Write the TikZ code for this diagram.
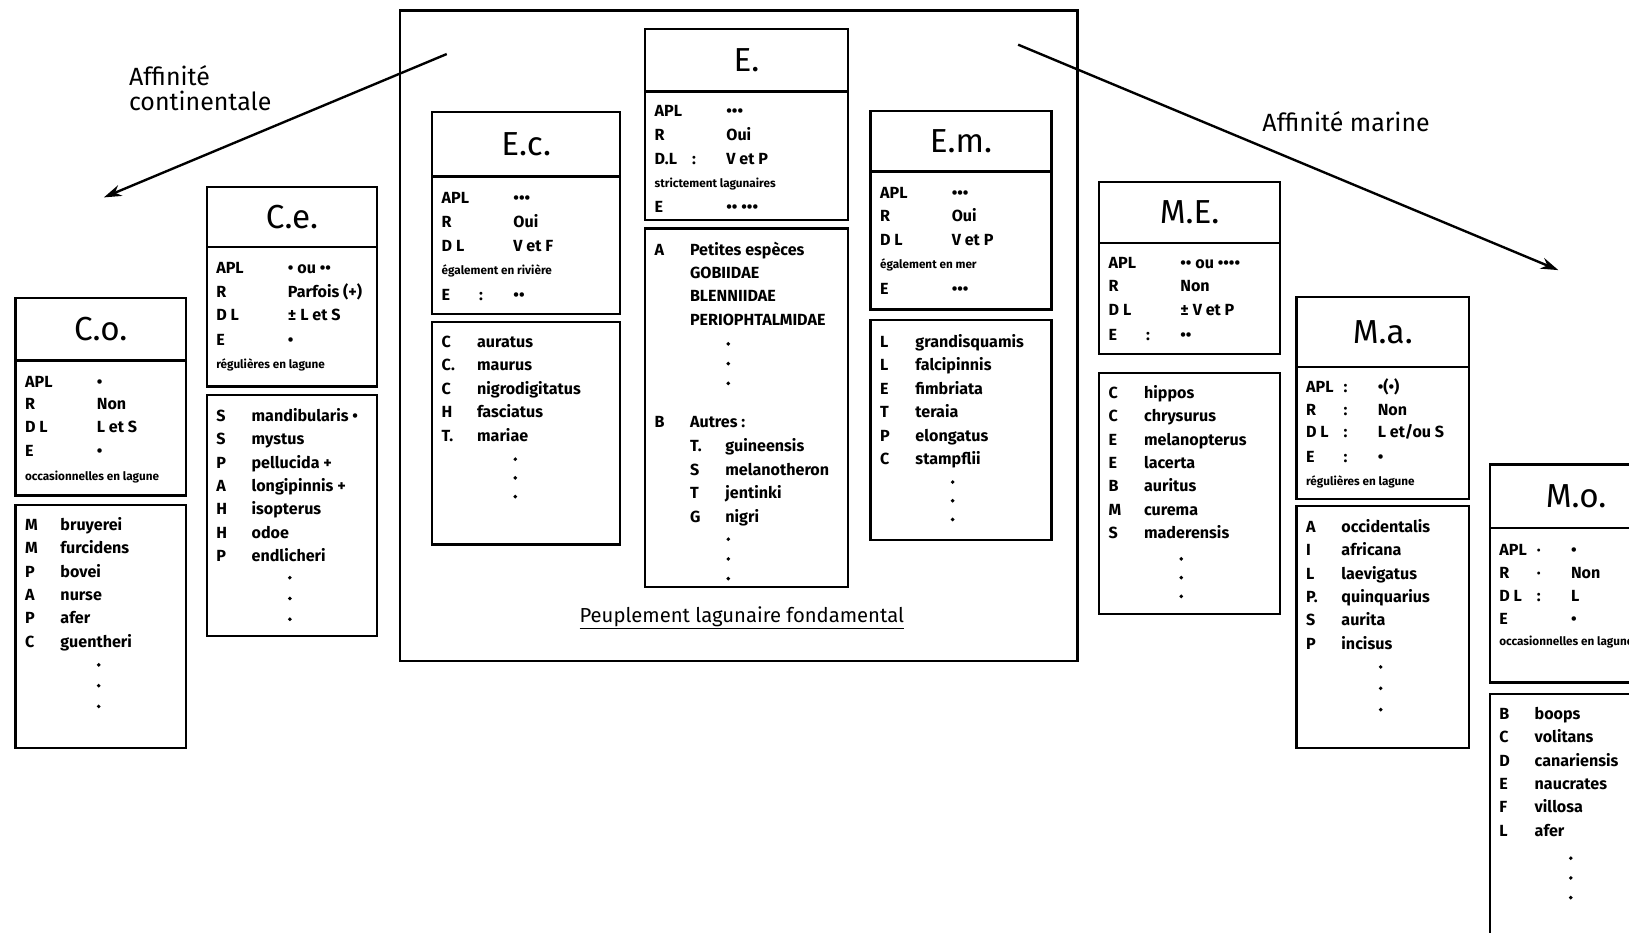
\documentclass[tikz,border=0pt]{standalone}
\usepackage{fontspec}
\setmainfont{Fira Sans}
\usetikzlibrary{arrows.meta}
\tikzset{
  boxr/.style={draw, line width=2.2pt, inner sep=0pt, minimum width=#1},
  ttl/.style={font=\fontsize{32}{35}\selectfont},
  txt/.style={anchor=base west, inner sep=0pt, font=\fontsize{15.5}{17}\selectfont\bfseries},
  sml/.style={anchor=base west, inner sep=0pt, font=\fontsize{11.3}{12}\selectfont\bfseries},
  lab/.style={anchor=west, inner sep=0pt, font=\fontsize{24}{26}\selectfont},
  arr/.style={line width=2.3pt, -{Stealth[length=17pt,width=11pt]}}
}
% box: name, L, R, Htop, Hbot, Pbot, Ltop, Lbot, title
\newcommand\fishbox[9]{%
  \node[boxr={#3-#2}, minimum height={#5-#4}, ttl] (#1h) at ({(#2+#3)/2},{(#4+#5)/2}) {#9};
  \node[boxr={#3-#2}, minimum height={#6-#5}] (#1p) at ({(#2+#3)/2},{(#5+#6)/2}) {};
  \node[boxr={#3-#2}, minimum height={#8-#7}] (#1l) at ({(#2+#3)/2},{(#7+#8)/2}) {};}
% parameter line: box, idx, L, y, label, colon, value
\newcommand\pl[7]{%
  \node[txt] (#1a#2) at ({#3+9},{#4+5.5}) {#5};
  \node[txt] (#1b#2) at ({#3+45},{#4+5.5}) {#6};
  \node[txt] (#1c#2) at ({#3+78},{#4+5.5}) {#7};}
% small line: box, idx, L, y, text
\newcommand\smallline[5]{%
  \node[sml] (#1s#2) at ({#3+9},{#4+3.5}) {#5};}
% list line: box, idx, L, y, letter, name
\newcommand\lline[6]{%
  \node[txt] (#1m#2) at ({#3+9},{#4+5.5}) {#5};
  \node[txt] (#1n#2) at ({#3+43},{#4+5.5}) {#6};}
% vertical dots: x, y, gap
\newcommand\vd[3]{%
  \fill ({#1},{#2}) circle (1.9) ({#1},{#2+#3}) circle (1.9) ({#1},{#2+2*#3}) circle (1.9);}
\begin{document}
\begin{tikzpicture}[x=1pt,y=-1pt]
\clip (0,0) rectangle (1568,898);
\fill[white] (0,0) rectangle (1568,898);

% outer frame
\node[draw, line width=2.2pt, minimum width=652pt, minimum height=626pt, inner sep=0pt] (outer) at (711,323) {};
\node[anchor=center, inner sep=0pt, font=\fontsize{19.5}{21}\selectfont] (peup) at (714,595) {\underline{Peuplement lagunaire fondamental}};

% arrows
\coordinate (ls) at (430,52);
\coordinate (le) at (100,190);
\coordinate (rs) at (980,43);
\coordinate (re) at (1500,260);
\draw[arr] (ls) -- (le);
\draw[arr] (rs) -- (re);
\node[lab] (aff1) at (124,73) {Affinité};
\node[lab] (aff2) at (124,97) {continentale};
\node[lab] (aff3) at (1215,117) {Affinité marine};

% ---------- C.o.
\fishbox{co}{15}{179}{287}{347}{477}{486}{720}{C.o.}
\pl{co}{1}{15}{367}{APL}{}{•}
\pl{co}{2}{15}{389}{R}{}{Non}
\pl{co}{3}{15}{411}{D L}{}{L et S}
\pl{co}{4}{15}{434}{E}{}{•}
\smallline{co}{5}{15}{459}{occasionnelles en lagune}
\lline{co}{1}{15}{505}{M}{bruyerei}
\lline{co}{2}{15}{527.5}{M}{furcidens}
\lline{co}{3}{15}{550}{P}{bovei}
\lline{co}{4}{15}{572.5}{A}{nurse}
\lline{co}{5}{15}{595}{P}{afer}
\lline{co}{6}{15}{617.5}{C}{guentheri}
\vd{95}{640}{20}

% ---------- C.e.
\fishbox{ce}{199}{363}{180}{238}{372}{380}{612}{C.e.}
\pl{ce}{1}{199}{258}{APL}{}{• ou ••}
\pl{ce}{2}{199}{281}{R}{}{Parfois (+)}
\pl{ce}{3}{199}{303}{D L}{}{± L et S}
\pl{ce}{4}{199}{327}{E}{}{•}
\smallline{ce}{5}{199}{351}{régulières en lagune}
\lline{ce}{1}{199}{400}{S}{mandibularis •}
\lline{ce}{2}{199}{422.5}{S}{mystus}
\lline{ce}{3}{199}{445}{P}{pellucida +}
\lline{ce}{4}{199}{467.5}{A}{longipinnis +}
\lline{ce}{5}{199}{490}{H}{isopterus}
\lline{ce}{6}{199}{512.5}{H}{odoe}
\lline{ce}{7}{199}{535}{P}{endlicheri}
\vd{279}{556}{20}

% ---------- E.c.
\fishbox{ec}{416}{597}{108}{170}{302}{310}{524}{E.c.}
\pl{ec}{1}{416}{190}{APL}{}{•••}
\pl{ec}{2}{416}{213}{R}{}{Oui}
\pl{ec}{3}{416}{237}{D L}{}{V et F}
\smallline{ec}{4}{416}{261}{également en rivière}
\pl{ec}{5}{416}{284}{E}{:}{••}
\lline{ec}{1}{416}{329}{C}{auratus}
\lline{ec}{2}{416}{351.5}{C.}{maurus}
\lline{ec}{3}{416}{374}{C}{nigrodigitatus}
\lline{ec}{4}{416}{396.5}{H}{fasciatus}
\lline{ec}{5}{416}{419}{T.}{mariae}
\vd{496}{442}{18}

% ---------- E.
\fishbox{ee}{621}{816}{28}{88}{212}{220}{565}{E.}
\pl{ee}{1}{621}{107}{APL}{}{•••}
\pl{ee}{2}{621}{130}{R}{}{Oui}
\pl{ee}{3}{621}{153}{D.L}{:}{V et P}
\smallline{ee}{4}{621}{177}{strictement lagunaires}
\pl{ee}{5}{621}{199}{E}{}{•• •••}
\lline{ee}{1}{621}{240}{A}{Petites espèces}
\lline{ee}{2}{621}{263}{}{GOBIIDAE}
\lline{ee}{3}{621}{285}{}{BLENNIIDAE}
\lline{ee}{4}{621}{308}{}{PERIOPHTALMIDAE}
\vd{701}{331}{19}
\lline{ee}{5}{621}{406}{B}{Autres :}
\lline{ee}{6}{655}{429}{T.}{guineensis}
\lline{ee}{7}{655}{452}{S}{melanotheron}
\lline{ee}{8}{655}{474}{T}{jentinki}
\lline{ee}{9}{655}{497}{G}{nigri}
\vd{701}{519}{19}

% ---------- E.m.
\fishbox{em}{838}{1012}{107}{165}{298}{308}{520}{E.m.}
\pl{em}{1}{838}{186}{APL}{}{•••}
\pl{em}{2}{838}{208}{R}{}{Oui}
\pl{em}{3}{838}{231}{D L}{}{V et P}
\smallline{em}{4}{838}{255}{également en mer}
\pl{em}{5}{838}{278}{E}{}{•••}
\lline{em}{1}{838}{329}{L}{grandisquamis}
\lline{em}{2}{838}{351.5}{L}{falcipinnis}
\lline{em}{3}{838}{374}{E}{fimbriata}
\lline{em}{4}{838}{396.5}{T}{teraia}
\lline{em}{5}{838}{419}{P}{elongatus}
\lline{em}{6}{838}{441.5}{C}{stampflii}
\vd{917}{464}{18}

% ---------- M.E.
\fishbox{me}{1058}{1232}{175}{234}{341}{359}{591}{M.E.}
\pl{me}{1}{1058}{253}{APL}{}{•• ou ••••}
\pl{me}{2}{1058}{275}{R}{}{Non}
\pl{me}{3}{1058}{298}{D L}{}{± V et P}
\pl{me}{4}{1058}{322}{E}{:}{••}
\lline{me}{1}{1058}{378}{C}{hippos}
\lline{me}{2}{1058}{400.5}{C}{chrysurus}
\lline{me}{3}{1058}{423}{E}{melanopterus}
\lline{me}{4}{1058}{445.5}{E}{lacerta}
\lline{me}{5}{1058}{468}{B}{auritus}
\lline{me}{6}{1058}{490.5}{M}{curema}
\lline{me}{7}{1058}{513}{S}{maderensis}
\vd{1137}{538}{18}

% ---------- M.a.
\fishbox{ma}{1248}{1414}{286}{353}{480}{487}{720}{M.a.}
\pl{ma}{1}{1248}{372}{APL}{:}{•(•)}
\pl{ma}{2}{1248}{394}{R}{:}{Non}
\pl{ma}{3}{1248}{416}{D L}{:}{L et/ou S}
\pl{ma}{4}{1248}{440}{E}{:}{•}
\smallline{ma}{5}{1248}{464}{régulières en lagune}
\lline{ma}{1}{1248}{507}{A}{occidentalis}
\lline{ma}{2}{1248}{529.5}{I}{africana}
\lline{ma}{3}{1248}{552}{L}{laevigatus}
\lline{ma}{4}{1248}{574.5}{P.}{quinquarius}
\lline{ma}{5}{1248}{597}{S}{aurita}
\lline{ma}{6}{1248}{619.5}{P}{incisus}
\vd{1329}{642}{20.5}

% ---------- M.o.
\fishbox{mo}{1434}{1600}{447}{508}{657}{668}{912}{M.o.}
\pl{mo}{1}{1434}{529}{APL}{·}{•}
\pl{mo}{2}{1434}{551}{R}{·}{Non}
\pl{mo}{3}{1434}{573}{D L}{:}{L}
\pl{mo}{4}{1434}{596}{E}{}{•}
\smallline{mo}{5}{1434}{618}{occasionnelles en lagune}
\lline{mo}{1}{1434}{687}{B}{boops}
\lline{mo}{2}{1434}{709.5}{C}{volitans}
\lline{mo}{3}{1434}{732}{D}{canariensis}
\lline{mo}{4}{1434}{754.5}{E}{naucrates}
\lline{mo}{5}{1434}{777}{F}{villosa}
\lline{mo}{6}{1434}{799.5}{L}{afer}
\vd{1512}{826}{19}
\end{tikzpicture}
\end{document}
